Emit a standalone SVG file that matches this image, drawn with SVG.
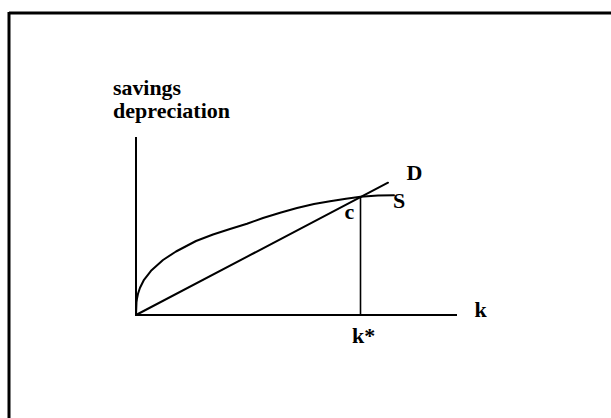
<svg xmlns="http://www.w3.org/2000/svg" width="611" height="418" viewBox="0 0 611 418">
<style>
.t{font-family:"Liberation Serif","Times New Roman",serif;font-weight:bold;fill:#000}
.ax{stroke:#000;stroke-width:2;fill:none}
.cv{stroke:#000;stroke-width:2;fill:none;stroke-linejoin:round;stroke-linecap:round}
</style>
<rect width="611" height="418" fill="#fff"/>
<g id="frame">
<line x1="9" y1="13" x2="611" y2="13" stroke="#000" stroke-width="3"/>
<line x1="9" y1="12" x2="9" y2="418" stroke="#000" stroke-width="3"/>
</g>
<g id="axis-label">
<text class="t" x="113" y="95" font-size="22" textLength="68" lengthAdjust="spacingAndGlyphs">savings</text>
<text class="t" x="113" y="118" font-size="22" textLength="117" lengthAdjust="spacingAndGlyphs">depreciation</text>
</g>
<g id="connectors">
<line class="ax" x1="136" y1="137" x2="136" y2="316"/>
<line class="ax" x1="135" y1="315" x2="457" y2="315"/>
<line x1="360.5" y1="197" x2="360.5" y2="315" stroke="#000" stroke-width="1.6"/>
<line class="cv" x1="136" y1="315" x2="388" y2="182.7"/>
<path class="cv" d="M136,315 L136.5,302.2 L137,298.5 L138,293.8 L140,287.7 L144,279.8 L151,270.8 L163,260 L176,251.5 L196,241 L213,234.5 L230,229 L247,223.8 L263,218 L281,212.5 L297,208 L314,204 L330,201.3 L346,198.7 L360.5,196.7 L378,195.5 L394,195.3"/>
</g>
<g id="labels">
<text class="t" x="406.5" y="180" font-size="22">D</text>
<text class="t" x="393" y="208" font-size="22">S</text>
<text class="t" x="344.5" y="219" font-size="22">c</text>
<text class="t" x="474.5" y="317" font-size="22">k</text>
<text class="t" x="352" y="343" font-size="22">k*</text>
</g>
</svg>
